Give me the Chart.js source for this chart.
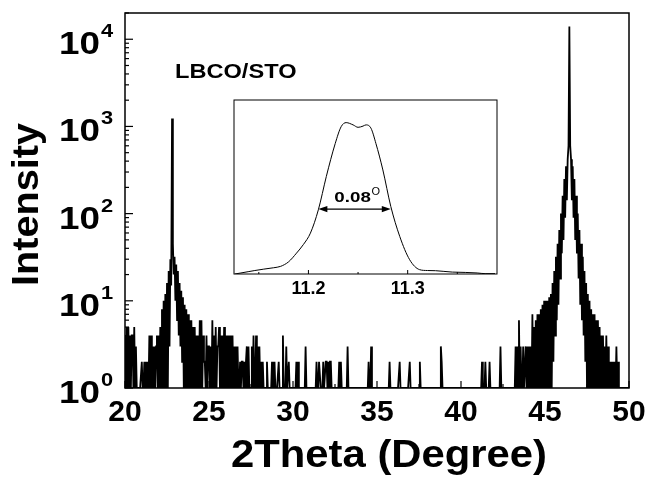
<!DOCTYPE html>
<html>
<head>
<meta charset="utf-8">
<script src="https://cdn.jsdelivr.net/npm/chart.js@4.4.1/dist/chart.umd.min.js"></script>
<style>
  html, body { margin: 0; padding: 0; background: #fff; }
  #wrap { position: relative; width: 653px; height: 477px; }
  #mainChart { position: absolute; left: 0; top: 0; }
  #insetChart { position: absolute; left: 230px; top: 96px; }
</style>
</head>
<body>
<div id="wrap">
  <canvas id="mainChart" width="653" height="477"></canvas>
  <canvas id="insetChart" width="271" height="204"></canvas>
</div>
<script>
// 2theta scan, one row per degree (20.00 ... 49.95 in 0.05 steps), plus the end point at 50.00
const scanStart = 20;
const scanStep = 0.05;
const counts = [
  4,1,5,1,5,1,4,1,4,4,1,5,1,3,1,1,1,1,1,1,            // 20
  2,1,1,2,1,2,1,2,1,4,1,4,1,3,1,3,1,3,4,1,            // 21
  4,1,5,1,8,1,10,1,12,1,16,1,22,3,30,15,1230,45,20,32, // 22
  10,26,6,22,4,16,3,13,2,11,1,9,1,8,1,7,1,6,1,6,      // 23
  1,5,1,5,1,4,1,4,1,6,1,6,1,4,2,2,1,4,1,3,            // 24
  3,1,3,1,6,1,4,1,5,1,3,3,5,1,4,1,4,1,5,1,            // 25
  4,1,4,1,4,1,4,1,4,1,3,1,3,1,3,1,1,2,1,2,            // 26
  2,1,2,1,2,3,1,3,1,1,1,3,1,4,1,1,4,1,3,1,            // 27
  3,1,2,1,2,1,1,1,1,2,1,1,1,1,1,2,1,1,2,1,            // 28
  1,1,1,2,1,1,1,1,4,1,1,1,3,1,1,2,1,1,1,1,            // 29
  1,1,1,1,2,1,2,1,1,1,1,1,1,1,1,3,1,1,1,1,            // 30
  1,1,1,1,1,1,1,1,2,1,1,2,2,1,1,1,2,1,1,2,            // 31
  2,1,2,1,2,2,1,1,1,1,1,1,1,1,1,2,1,2,1,1,            // 32
  1,1,1,1,1,3,1,1,1,1,1,1,1,1,1,1,1,1,1,1,            // 33
  1,1,1,1,1,1,1,1,1,1,2,1,1,3,1,1,1,1,1,1,            // 34
  1,1,1,1,1,1,1,1,1,1,1,1,1,1,1,2,1,1,1,1,            // 35
  1,1,1,1,1,1,1,2,1,1,1,1,1,1,1,1,1,1,1,2,            // 36
  1,1,1,1,1,1,1,1,1,1,1,2,1,1,1,1,1,1,1,1,            // 37
  1,1,1,1,1,1,1,1,1,1,1,1,1,1,1,1,3,2,1,1,            // 38
  1,1,1,1,1,1,1,1,1,1,1,1,1,1,1,1,1,1,1,1,            // 39
  1,1,1,1,1,1,1,1,1,1,1,1,1,1,1,1,1,1,1,1,            // 40
  1,1,1,1,1,2,1,1,1,2,1,1,1,1,2,1,1,1,1,1,            // 41
  1,1,1,1,1,1,1,3,1,1,1,1,1,1,1,1,1,1,1,1,            // 42
  1,1,1,1,1,3,1,3,1,6,1,3,1,1,3,1,1,3,1,3,            // 43
  1,3,1,3,1,7,1,5,1,6,1,7,1,7,1,8,1,9,1,10,           // 44
  1,10,1,10,1,11,1,12,1,16,2,22,4,32,6,45,9,65,18,100, // 45
  35,160,50,250,90,350,142,420,600,14000,600,420,142,350,90,250,50,160,35,100, // 46
  18,65,9,45,6,32,4,22,2,16,1,12,1,10,1,8,1,7,1,7,    // 47
  1,6,1,6,1,5,1,4,1,4,1,3,1,4,1,3,1,2,1,2,            // 48
  1,2,1,2,1,3,1,2,1,1,1,1,1,1,1,1,1,1,1,1,            // 49
  1                                                   // 50
];

// inset: the peak around 11.25
const insetTheta = [11.126, 11.132, 11.14, 11.146, 11.155, 11.165, 11.172, 11.18, 11.188, 11.195,
  11.202, 11.21, 11.218, 11.227, 11.233, 11.238, 11.245, 11.25, 11.255, 11.258, 11.263, 11.268,
  11.275, 11.283, 11.292, 11.302, 11.312, 11.32, 11.328, 11.345, 11.358, 11.37, 11.378, 11.388];
const insetIntensity = [0, 6, 14, 20, 28, 36, 44, 70, 120, 170,
  235, 369, 560, 750, 847, 870, 857, 843, 850, 857, 838, 750,
  598, 388, 216, 82, 25, 20, 19, 11, 9, 6, 2, 2];
const fwhmEdges = [11.21, 11.283];
const fwhmLevel = 373;
const fwhmText = '0.08';

// axes
const xTickValues = [20, 25, 30, 35, 40, 45, 50];
const yTickValues = [1, 10, 100, 1000, 10000];
const yTickExponents = ['0', '1', '2', '3', '4'];
const insetTickValues = [11.2, 11.3];
const insetTickLabels = ['11.2', '11.3'];
const insetMinorTicks = [11.15, 11.25, 11.35];
const sampleLabel = 'LBCO/STO';
const xTitle = '2Theta (Degree)';
const yTitle = 'Intensity';

const FONT = 'Liberation Sans';
Chart.defaults.font.family = FONT;

const scanPoints = counts.map((c, i) => ({ x: +(scanStart + i * scanStep).toFixed(2), y: c }));
const insetPoints = insetTheta.map((t, i) => ({ x: t, y: insetIntensity[i] }));

// text stretched sideways, the original figure was widened a bit
function wideText(ctx, str, x, y, font, sx, align) {
  ctx.save();
  ctx.translate(x, y);
  ctx.scale(sx, 1);
  ctx.font = font;
  ctx.textAlign = align || 'left';
  ctx.textBaseline = 'alphabetic';
  ctx.fillText(str, 0, 0);
  ctx.restore();
}

function tick(ctx, x1, y1, x2, y2) {
  ctx.beginPath();
  ctx.moveTo(x1, y1);
  ctx.lineTo(x2, y2);
  ctx.stroke();
}

const mainDecor = {
  id: 'mainDecor',
  afterDraw(chart) {
    const ctx = chart.ctx, a = chart.chartArea;
    const xs = chart.scales.x, ys = chart.scales.y;
    ctx.save();
    ctx.strokeStyle = '#000';
    ctx.fillStyle = '#000';
    ctx.lineWidth = 1.5;
    ctx.strokeRect(a.left, a.top, a.right - a.left, a.bottom - a.top);

    // inward ticks
    ctx.lineWidth = 1.2;
    yTickValues.forEach(v => {
      const py = ys.getPixelForValue(v);
      tick(ctx, a.left, py, a.left + 8, py);
      for (let m = 2; m <= 9; m++) {
        if (v * m > ys.max) break;
        const pm = ys.getPixelForValue(v * m);
        tick(ctx, a.left, pm, a.left + 4, pm);
      }
    });
    xTickValues.forEach(v => {
      const px = xs.getPixelForValue(v);
      tick(ctx, px, a.bottom, px, a.bottom - 7);
      if (v + 2.5 < xs.max) {
        const pm = xs.getPixelForValue(v + 2.5);
        tick(ctx, pm, a.bottom, pm, a.bottom - 4);
      }
    });

    // y labels 10^n
    yTickValues.forEach((v, i) => {
      const py = ys.getPixelForValue(v);
      wideText(ctx, '10', a.left - 25, py + 15, 'bold 32px "' + FONT + '"', 1.15, 'right');
      wideText(ctx, yTickExponents[i], a.left - 24, py - 2, 'bold 19px "' + FONT + '"', 1.15, 'left');
    });

    // axis titles
    wideText(ctx, xTitle, 389, 467, 'bold 38px "' + FONT + '"', 1.1, 'center');
    ctx.save();
    ctx.translate(38, (a.top + a.bottom) / 2 + 4);
    ctx.rotate(-Math.PI / 2);
    wideText(ctx, yTitle, 0, 0, 'bold 36px "' + FONT + '"', 1.1, 'center');
    ctx.restore();

    // sample label
    wideText(ctx, sampleLabel, 175, 78, 'bold 20px "' + FONT + '"', 1.18, 'left');
    ctx.restore();
  }
};

new Chart(document.getElementById('mainChart'), {
  type: 'line',
  data: {
    datasets: [{
      data: scanPoints,
      borderColor: '#000',
      borderWidth: 1.8,
      pointRadius: 0,
      tension: 0,
      fill: false
    }]
  },
  options: {
    responsive: false,
    animation: false,
    layout: { padding: { left: 125, top: 13, right: 24, bottom: 0 } },
    plugins: { legend: { display: false }, tooltip: { enabled: false } },
    scales: {
      x: {
        type: 'linear',
        min: 20,
        max: 50,
        grid: { display: false, drawTicks: false },
        border: { display: false },
        afterBuildTicks(scale) { scale.ticks = xTickValues.map(v => ({ value: v })); },
        ticks: {
          color: '#000',
          padding: 7,
          maxRotation: 0,
          font: { family: FONT, weight: 'bold', size: 30 }
        },
        afterFit(scale) { scale.height = 89; }
      },
      y: { type: 'logarithmic', min: 1, max: 20000, display: false }
    }
  },
  plugins: [mainDecor]
});

const insetDecor = {
  id: 'insetDecor',
  afterDraw(chart) {
    const ctx = chart.ctx, a = chart.chartArea;
    const xs = chart.scales.x, ys = chart.scales.y;
    ctx.save();
    ctx.strokeStyle = '#000';
    ctx.fillStyle = '#000';
    ctx.lineWidth = 1;
    ctx.strokeRect(a.left, a.top, a.right - a.left, a.bottom - a.top);
    insetTickValues.forEach(v => {
      const px = xs.getPixelForValue(v);
      tick(ctx, px, a.bottom, px, a.bottom - 4);
    });
    insetMinorTicks.forEach(v => {
      const px = xs.getPixelForValue(v);
      tick(ctx, px, a.bottom, px, a.bottom - 2);
    });

    // FWHM arrow
    const x1 = xs.getPixelForValue(fwhmEdges[0]);
    const x2 = xs.getPixelForValue(fwhmEdges[1]);
    const y = ys.getPixelForValue(fwhmLevel);
    ctx.lineWidth = 1.2;
    tick(ctx, x1 + 4, y, x2 - 4, y);
    ctx.beginPath();
    ctx.moveTo(x1, y); ctx.lineTo(x1 + 9, y - 3.2); ctx.lineTo(x1 + 9, y + 3.2); ctx.closePath();
    ctx.moveTo(x2, y); ctx.lineTo(x2 - 9, y - 3.2); ctx.lineTo(x2 - 9, y + 3.2); ctx.closePath();
    ctx.fill();

    const cx = (x1 + x2) / 2;
    wideText(ctx, fwhmText, cx - 2, y - 7.5, 'bold 15px "' + FONT + '"', 1.25, 'center');
    wideText(ctx, 'O', cx + 17, y - 14, '10px "' + FONT + '"', 1.1, 'left');
    ctx.restore();
  }
};

new Chart(document.getElementById('insetChart'), {
  type: 'line',
  data: {
    datasets: [{
      data: insetPoints,
      borderColor: '#000',
      borderWidth: 1,
      pointRadius: 0,
      cubicInterpolationMode: 'monotone',
      fill: false
    }]
  },
  options: {
    responsive: false,
    animation: false,
    layout: { padding: { left: 4, right: 4, top: 4, bottom: 0 } },
    plugins: { legend: { display: false }, tooltip: { enabled: false } },
    scales: {
      x: {
        type: 'linear',
        min: 11.125,
        max: 11.39,
        grid: { display: false, drawTicks: false },
        border: { display: false },
        afterBuildTicks(scale) { scale.ticks = insetTickValues.map(v => ({ value: v })); },
        ticks: {
          color: '#000',
          padding: 4,
          maxRotation: 0,
          font: { family: FONT, weight: 'bold', size: 18 },
          callback: (v, i) => insetTickLabels[i]
        },
        afterFit(scale) { scale.height = 26; }
      },
      y: { min: 0, max: 1000, display: false }
    }
  },
  plugins: [insetDecor]
});
</script>
</body>
</html>
